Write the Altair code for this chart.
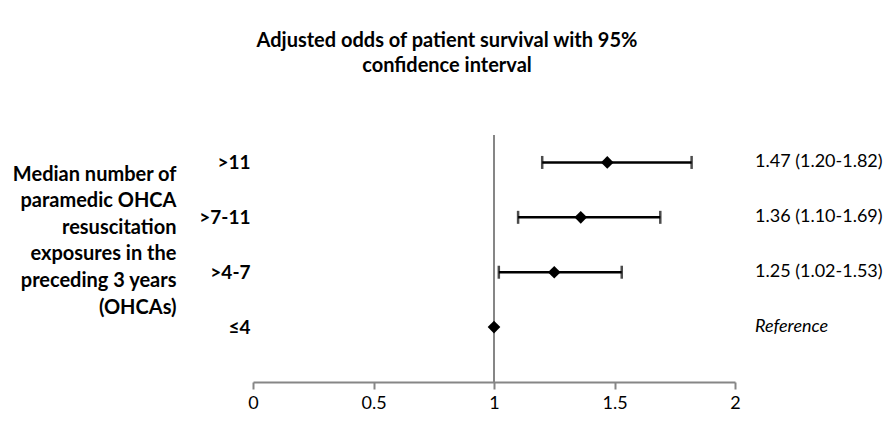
import altair as alt
import pandas as pd

categories = [">11", ">7-11", ">4-7", "≤4"]
positions = [4, 3, 2, 1]
odds = [1.47, 1.36, 1.25, 1.00]
lower = [1.20, 1.10, 1.02, None]
upper = [1.82, 1.69, 1.53, None]
labels = ["1.47 (1.20-1.82)", "1.36 (1.10-1.69)", "1.25 (1.02-1.53)", "Reference"]
x_ticks = [0, 0.5, 1, 1.5, 2]
ref_value = [1]

title_lines = ["Adjusted odds of patient survival with 95%", "confidence interval"]
y_title_lines = ["Median number of", "paramedic OHCA", "resuscitation",
                 "exposures in the", "preceding 3 years", "(OHCAs)"]

df = pd.DataFrame({"cat": categories, "pos": positions, "odds": odds,
                   "lo": lower, "hi": upper, "label": labels,
                   "italic": [l == "Reference" for l in labels]})
ci = df.dropna(subset=["lo"])
ref_df = pd.DataFrame({"x": ref_value, "y0": [0.0], "y1": [4.5]})

FONT = "Lato"
FS = 18
FSB = 20
label_expr = " : ".join(f"datum.value == {p} ? '{c}'" for p, c in zip(positions, categories)) + " : ''"

xscale = alt.Scale(domain=[0, 2], nice=False, zero=False)
yscale = alt.Scale(domain=[0, 4.5], nice=False, zero=False)

xaxis = alt.Axis(values=x_ticks, format="~g", grid=False, domainColor="#868686", domainWidth=2,
                 tickColor="#868686", tickWidth=2, tickSize=7, labelFontSize=FS,
                 labelFont=FONT, labelColor="black", labelPadding=5, title=None,
                 labelFlush=False)
yaxis = alt.Axis(values=positions, labelExpr=label_expr, grid=False, domain=False,
                 ticks=False, tickSize=0, labelPadding=3, labelFont=FONT,
                 labelFontSize=19, labelFontWeight="bold", labelColor="black",
                 title=y_title_lines, titleAngle=0, titleAlign="right",
                 titleBaseline="middle", titleX=-77, titleY=39, titleFont=FONT,
                 titleFontSize=FSB, titleFontWeight="bold", titleColor="black",
                 titleLineHeight=26.6)

base_x = alt.X("odds:Q", scale=xscale, axis=xaxis)
base_y = alt.Y("pos:Q", scale=yscale, axis=yaxis)

ref_line = alt.Chart(ref_df).mark_rule(color="#868686", strokeWidth=2).encode(
    x=alt.X("x:Q", scale=xscale, axis=xaxis),
    y=alt.Y("y0:Q", scale=yscale, axis=yaxis),
    y2="y1:Q",
)

bars = alt.Chart(ci).mark_rule(color="black", strokeWidth=2.5).encode(
    x=alt.X("lo:Q", scale=xscale, axis=xaxis), x2="hi:Q", y=base_y)
cap_lo = alt.Chart(ci).mark_tick(color="black", thickness=2.5, size=13, orient="vertical").encode(
    x=alt.X("lo:Q", scale=xscale, axis=xaxis), y=base_y)
cap_hi = alt.Chart(ci).mark_tick(color="black", thickness=2.5, size=13, orient="vertical").encode(
    x=alt.X("hi:Q", scale=xscale, axis=xaxis), y=base_y)
points = alt.Chart(df).mark_point(shape="diamond", filled=True, color="black",
                                  size=160, opacity=1).encode(x=base_x, y=base_y)

text_normal = alt.Chart(df[~df["italic"]]).mark_text(
    align="left", baseline="middle", font=FONT, fontSize=FS, color="black", dx=20
).encode(x=alt.datum(2, scale=xscale), y=base_y, text="label:N")
text_italic = alt.Chart(df[df["italic"]]).mark_text(
    align="left", baseline="middle", font=FONT, fontSize=FS, color="black", dx=20,
    fontStyle="italic"
).encode(x=alt.datum(2, scale=xscale), y=base_y, text="label:N")

chart = alt.layer(ref_line, bars, cap_lo, cap_hi, points, text_normal, text_italic).properties(
    width=482, height=247,
    autosize=alt.AutoSizeParams(type="none"),
    padding={"left": 245, "top": 127, "right": 150, "bottom": 32},
    title=alt.TitleParams(text=title_lines, anchor="middle", frame="group", dx=-47,
                          offset=58, font=FONT, fontSize=FSB, fontWeight="bold",
                          color="black", lineHeight=25),
).configure_view(stroke=None)

chart.save("out.html", embed_options={"renderer": "svg", "actions": False})
